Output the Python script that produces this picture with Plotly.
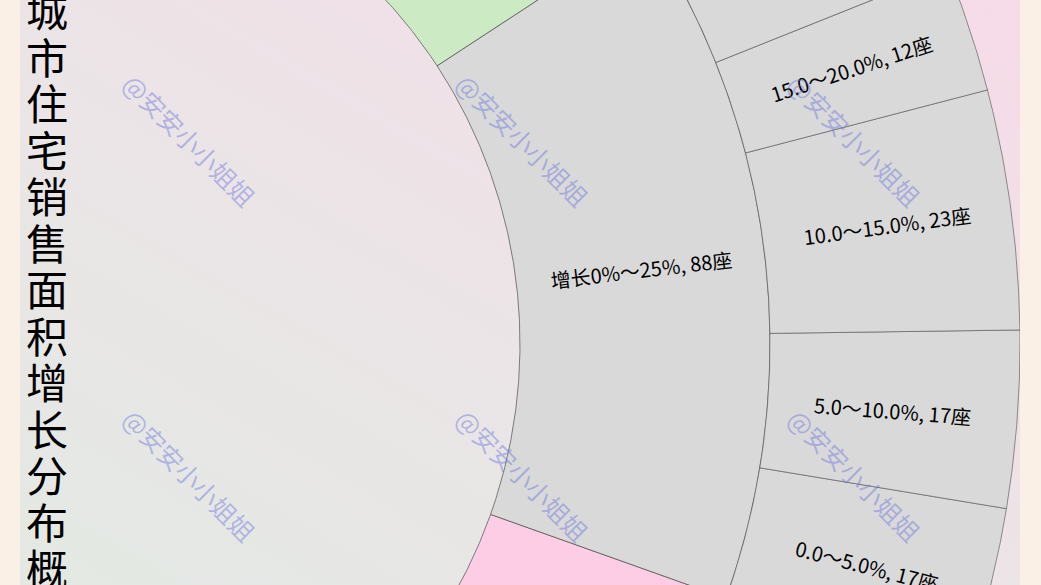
import base64
import numpy as np
import plotly.graph_objects as go

# ---------------- data ----------------
parent_labels = ["下降25%以上", "下降0%～25%", "增长0%～25%", "增长25%～50%", "增长50%以上"]
parent_values = [40, 210, 88, 150, 112]
parent_colors = ["#bebada", "#fccde5", "#d9d9d9", "#ccebc5", "#ffffb3"]

child_parent = "增长0%～25%"
child_labels = ["0.0～5.0%", "5.0～10.0%", "10.0～15.0%", "15.0～20.0%", "20.0～25.0%"]
child_values = [17, 17, 23, 12, 19]

title_text = "城市住宅销售面积增长分布概况"
watermark_text = "@安安小小姐姐"

# ---------------- layout constants ----------------
W, H = 1041, 585
ML, MR = 20, 21
CX_PX, CY_PX = 12, 344          # sunburst centre in page pixels
R_IN, RING = 508, 250           # inner radius and ring width
START_DEG = -169.6              # angle where the first category starts (counter-clockwise)
LINE_COLOR = "#4d4d4d"
LABEL_FONT = dict(size=20, color="#000000", family="Noto Sans CJK SC")

total = sum(parent_values)
deg_per = 360.0 / total


def wedge(a0, a1, r0, r1):
    n = max(int(abs(a1 - a0) * 4), 8)
    t_out = np.radians(np.linspace(a0, a1, n))
    t_in = t_out[::-1]
    xs = np.concatenate([r1 * np.cos(t_out), r0 * np.cos(t_in), [r1 * np.cos(t_out[0])]])
    ys = np.concatenate([r1 * np.sin(t_out), r0 * np.sin(t_in), [r1 * np.sin(t_out[0])]])
    return xs, ys


fig = go.Figure()
annotations = []

# parents (middle ring)
a = START_DEG
parent_span = {}
for lab, val, col in zip(parent_labels, parent_values, parent_colors):
    a1 = a + val * deg_per
    parent_span[lab] = (a, a1, col)
    xs, ys = wedge(a, a1, R_IN, R_IN + RING)
    fig.add_trace(go.Scatter(x=xs, y=ys, mode="lines", fill="toself", fillcolor=col,
                             line=dict(color=LINE_COLOR, width=0.7), hoverinfo="skip",
                             showlegend=False))
    mid = (a + a1) / 2
    rm = R_IN + RING / 2
    annotations.append(dict(x=rm * np.cos(np.radians(mid)), y=rm * np.sin(np.radians(mid)),
                            xref="x", yref="y", text=f"{lab}, {val}座", showarrow=False,
                            xanchor="center", yanchor="middle",
                            textangle=-mid, font=LABEL_FONT))
    a = a1

# children (outer ring)
a, _, ccol = parent_span[child_parent]
for lab, val in zip(child_labels, child_values):
    a1 = a + val * deg_per
    xs, ys = wedge(a, a1, R_IN + RING, R_IN + 2 * RING)
    fig.add_trace(go.Scatter(x=xs, y=ys, mode="lines", fill="toself", fillcolor=ccol,
                             line=dict(color=LINE_COLOR, width=0.6), hoverinfo="skip",
                             showlegend=False))
    mid = (a + a1) / 2
    rm = R_IN + 1.5 * RING
    annotations.append(dict(x=rm * np.cos(np.radians(mid)), y=rm * np.sin(np.radians(mid)),
                            xref="x", yref="y", text=f"{lab}, {val}座", showarrow=False,
                            xanchor="center", yanchor="middle",
                            textangle=-mid, font=LABEL_FONT))
    a = a1

# vertical title (one character per line)
for i, ch in enumerate(title_text):
    py = 8.5 + 46.5 * i
    annotations.append(dict(x=(47 - ML) / (W - ML - MR), y=1 - py / H, xref="paper", yref="paper",
                            text=ch, showarrow=False, xanchor="center", yanchor="middle",
                            font=dict(size=42, color="#000000", family="Noto Sans CJK SC")))

# watermarks
for py in (140, 475):
    for px in (190, 523, 855):
        annotations.append(dict(x=(px - ML) / (W - ML - MR), y=1 - py / H, xref="paper",
                                yref="paper", text=watermark_text, showarrow=False,
                                xanchor="center", yanchor="middle", textangle=45,
                                font=dict(size=25, color="rgba(105,115,220,0.45)",
                                          family="Noto Sans CJK SC")))

svg = ('<svg xmlns="http://www.w3.org/2000/svg" width="1000" height="585" viewBox="0 0 1000 585" '
       'preserveAspectRatio="none"><defs><linearGradient id="g" x1="0" y1="1" x2="1" y2="0">'
       '<stop offset="0" stop-color="#e3e9e3"/><stop offset="0.5" stop-color="#ece4e7"/>'
       '<stop offset="1" stop-color="#f6dbe8"/></linearGradient></defs>'
       '<rect width="1000" height="585" fill="url(#g)"/></svg>')
bg_src = "data:image/svg+xml;base64," + base64.b64encode(svg.encode()).decode()

x0 = ML - CX_PX
fig.update_layout(
    width=W, height=H,
    margin=dict(l=ML, r=MR, t=0, b=0, pad=0),
    paper_bgcolor="#faf0e6",
    plot_bgcolor="rgba(0,0,0,0)",
    xaxis=dict(range=[x0, x0 + (W - ML - MR)], visible=False, fixedrange=True),
    yaxis=dict(range=[CY_PX - H, CY_PX], visible=False, fixedrange=True),
    images=[dict(source=bg_src, xref="paper", yref="paper", x=0, y=1, sizex=1, sizey=1,
                 sizing="stretch", layer="below", xanchor="left", yanchor="top")],
    annotations=annotations,
    showlegend=False,
)

fig.write_html("out.html",
               config={"displayModeBar": False},
               post_script="document.body.style.margin='0';document.body.style.overflow='hidden';")
